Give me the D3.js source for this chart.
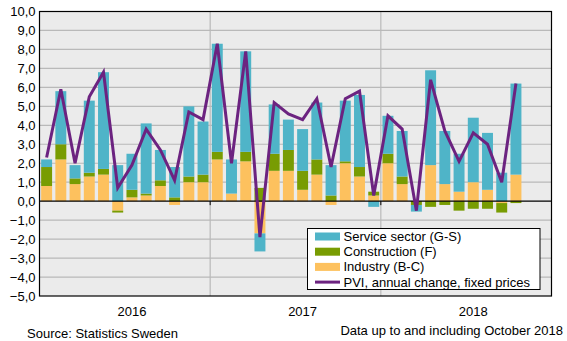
<!DOCTYPE html>
<html>
<head>
<meta charset="utf-8">
<script src="https://cdn.jsdelivr.net/npm/d3@7"></script>
<style>
  body { margin: 0; background: #fff; }
  svg { font-family: "Liberation Sans", Arial, sans-serif; }
</style>
</head>
<body>
<div id="chart"></div>
<script>
var width = 567,
    height = 341;

// months Jan 2016 - Dec 2018 (data up to Oct 2018)
var years = ["2016", "2017", "2018"];
var months = [];
years.forEach(function (y) {
    for (var m = 1; m <= 12; m++) months.push(y + "-" + (m < 10 ? "0" + m : m));
});

var industry = [0.8, 2.2, 0.9, 1.3, 1.4, -0.5, 0.2, 0.3, 0.8, -0.2, 1.0, 1.0,
                2.2, 0.4, 2.1, -1.7, 1.6, 1.6, 0.6, 1.4, -0.2, 2.0, 1.3, 0.3,
                2.0, 0.9, 0.0, 1.9, 0.9, 0.5, 1.0, 0.6, -0.1, 1.4];
var construction = [1.0, 0.8, 0.3, 0.2, 0.3, -0.1, 0.4, 0.1, 0.3, 0.2, 0.3, 0.4,
                    0.4, 0.0, 0.5, 0.7, 0.9, 1.1, 1.0, 0.8, 0.3, 0.1, 0.5, 0.2,
                    0.5, 0.4, -0.2, -0.3, -0.2, -0.5, -0.4, -0.4, -0.5, -0.1];
var service = [0.4, 2.8, 0.7, 3.8, 5.1, 1.9, 1.9, 3.7, 1.6, 1.6, 3.7, 2.8,
               5.7, 1.8, 5.3, -0.95, 2.6, 1.6, 2.2, 3.0, 1.6, 3.2, 3.8, -0.3,
               2.0, 2.4, -0.35, 5.0, 2.8, 2.0, 3.4, 3.0, 1.5, 4.8];
var pvi = [2.3, 5.9, 2.0, 5.5, 6.8, 0.7, 1.9, 3.8, 2.7, 1.1, 4.7, 4.3,
           8.3, 2.0, 7.9, -1.9, 5.2, 4.6, 4.3, 5.4, 1.8, 5.4, 5.8, 0.3,
           4.5, 3.8, -0.5, 6.4, 3.7, 2.1, 3.6, 3.0, 1.0, 6.2];

var yTicks = [-5, -4, -3, -2, -1, 0, 1, 2, 3, 4, 5, 6, 7, 8, 9, 10];

var series = [
    { key: "industry", name: "Industry (B-C)", values: industry, color: "#fdc15e" },
    { key: "construction", name: "Construction (F)", values: construction, color: "#789c02" },
    { key: "service", name: "Service sector (G-S)", values: service, color: "#4fb4c8" }
];

var margin = { left: 39.5, right: 15.5, top: 11.5, bottom: 45 };

var x = d3.scaleBand()
    .domain(months)
    .range([margin.left, width - margin.right])
    .paddingInner(0.23)
    .paddingOuter(0.115);

var y = d3.scaleLinear()
    .domain([-5, 10])
    .range([height - margin.bottom, margin.top]);

var svg = d3.select("#chart")
    .append("svg")
    .attr("width", width)
    .attr("height", height);

// plot background
svg.append("rect")
    .attr("x", margin.left)
    .attr("y", margin.top)
    .attr("width", width - margin.right - margin.left)
    .attr("height", y(-5) - y(10))
    .attr("fill", "#ebebeb");

// horizontal grid
svg.append("g")
    .selectAll("line")
    .data(yTicks.filter(function (d) { return d != 0 && d != 10 && d != -5; }))
    .join("line")
    .attr("x1", margin.left)
    .attr("x2", width - margin.right)
    .attr("y1", function (d) { return y(d); })
    .attr("y2", function (d) { return y(d); })
    .attr("stroke", "#b9b9b9")
    .attr("stroke-width", 1.2);

// year separators
var step = x.step();
var separators = [months[12], months[24]];
svg.append("g")
    .selectAll("line")
    .data(separators)
    .join("line")
    .attr("x1", function (d) { return x(d) - x.padding() * step / 2 - (x.bandwidth() * 0); })
    .attr("x2", function (d) { return x(d) - x.padding() * step / 2; })
    .attr("y1", y(10))
    .attr("y2", y(-5))
    .attr("stroke", "#b9b9b9")
    .attr("stroke-width", 1.2);

// stacked bars, positives and negatives stacked separately
var posBase = months.map(function () { return 0; });
var negBase = months.map(function () { return 0; });
series.forEach(function (s) {
    var rects = [];
    s.values.forEach(function (v, i) {
        var y0, y1;
        if (v >= 0) { y0 = posBase[i]; y1 = y0 + v; posBase[i] = y1; }
        else { y0 = negBase[i]; y1 = y0 + v; negBase[i] = y1; }
        rects.push({ m: months[i], y0: y0, y1: y1 });
    });
    svg.append("g")
        .attr("fill", s.color)
        .selectAll("rect")
        .data(rects)
        .join("rect")
        .attr("x", function (d) { return x(d.m); })
        .attr("width", x.bandwidth())
        .attr("y", function (d) { return y(Math.max(d.y0, d.y1)); })
        .attr("height", function (d) { return Math.abs(y(d.y0) - y(d.y1)); });
});

// zero line and ticks
svg.append("line")
    .attr("x1", margin.left)
    .attr("x2", width - margin.right)
    .attr("y1", y(0))
    .attr("y2", y(0))
    .attr("stroke", "#000")
    .attr("stroke-width", 1.2);

svg.append("g")
    .selectAll("line")
    .data(separators)
    .join("line")
    .attr("x1", function (d) { return x(d) - x.padding() * step / 2; })
    .attr("x2", function (d) { return x(d) - x.padding() * step / 2; })
    .attr("y1", y(0))
    .attr("y2", y(0) + 4)
    .attr("stroke", "#000");

// PVI line
var line = d3.line()
    .x(function (d, i) { return x(months[i]) + x.bandwidth() / 2; })
    .y(function (d) { return y(d); });

svg.append("path")
    .datum(pvi)
    .attr("d", line)
    .attr("fill", "none")
    .attr("stroke", "#6c2380")
    .attr("stroke-width", 3)
    .attr("stroke-linejoin", "miter");

// frame
svg.append("rect")
    .attr("x", margin.left)
    .attr("y", margin.top)
    .attr("width", width - margin.right - margin.left)
    .attr("height", y(-5) - y(10))
    .attr("fill", "none")
    .attr("stroke", "#000")
    .attr("stroke-width", 1.2);

// y axis labels
svg.append("g")
    .attr("font-size", "13px")
    .attr("text-anchor", "end")
    .selectAll("text")
    .data(yTicks)
    .join("text")
    .attr("x", margin.left - 4)
    .attr("y", function (d) { return y(d) + 4.5; })
    .text(function (d) { return d3.format(".1f")(d).replace(".", ",").replace("-", "-"); });

// year labels
svg.append("g")
    .attr("font-size", "13px")
    .attr("text-anchor", "middle")
    .selectAll("text")
    .data(years)
    .join("text")
    .attr("x", function (d) { return x(d + "-07") + x.bandwidth() / 2; })
    .attr("y", y(-5) + 20)
    .text(function (d) { return d; });

// legend
var legend = svg.append("g").attr("transform", "translate(307.5,228.5)");
legend.append("rect")
    .attr("width", 232.5)
    .attr("height", 61)
    .attr("fill", "#fff")
    .attr("stroke", "#000")
    .attr("stroke-width", 1);

var legendItems = [series[2], series[1], series[0]];
legendItems.forEach(function (s, i) {
    legend.append("rect")
        .attr("x", 7.5)
        .attr("y", 4 + i * 15.2)
        .attr("width", 25)
        .attr("height", 8)
        .attr("fill", s.color);
    legend.append("text")
        .attr("x", 36)
        .attr("y", 12.5 + i * 15.2)
        .attr("font-size", "13px")
        .text(s.name);
});
legend.append("line")
    .attr("x1", 7.5)
    .attr("x2", 32.5)
    .attr("y1", 8 + 3 * 15.2)
    .attr("y2", 8 + 3 * 15.2)
    .attr("stroke", "#6c2380")
    .attr("stroke-width", 3);
legend.append("text")
    .attr("x", 36)
    .attr("y", 12.5 + 3 * 15.2)
    .attr("font-size", "13px")
    .text("PVI, annual change, fixed prices");

// footer
svg.append("text")
    .attr("x", 27)
    .attr("y", 337.5)
    .attr("font-size", "13px")
    .text("Source:  Statistics Sweden");

svg.append("text")
    .attr("x", 563)
    .attr("y", 335)
    .attr("font-size", "13px")
    .attr("text-anchor", "end")
    .text("Data up to and including October 2018");
</script>
</body>
</html>
